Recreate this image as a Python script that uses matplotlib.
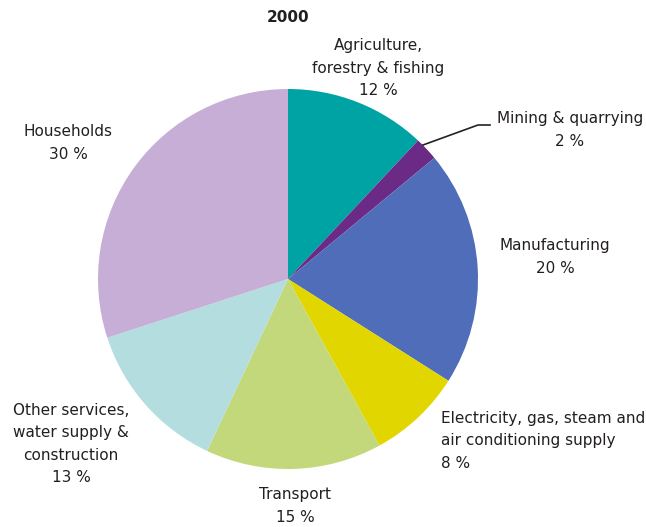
import matplotlib.pyplot as plt

# data
sectors = ['Agriculture,\nforestry & fishing', 'Mining & quarrying', 'Manufacturing',
           'Electricity, gas, steam and\nair conditioning supply', 'Transport',
           'Other services,\nwater supply &\nconstruction', 'Households']
shares = [12, 2, 20, 8, 15, 13, 30]
colors = ['#00a3a3', '#6b2a86', '#4f6db8', '#e2d600', '#c2d87a', '#b4dde0', '#c7aed6']

plt.rcParams['font.family'] = ['DejaVu Sans']

W, H = 646, 527
fig = plt.figure(figsize=(W / 100, H / 100), dpi=100)

cx, cy, r = 288, 279, 190   # pie centre / radius in pixels
ax = fig.add_axes([(cx - r) / W, (H - cy - r) / H, 2 * r / W, 2 * r / H])
ax.pie(shares, colors=colors, startangle=90, counterclock=False, radius=1,
       wedgeprops=dict(linewidth=0))
ax.set_xlim(-1, 1)
ax.set_ylim(-1, 1)
ax.set_aspect('equal')
ax.axis('off')


def px(x, y):
    return x / W, 1 - y / H


fs = 11
txtc = '#231f20'
fig.text(*px(288, 17), '2000', ha='center', va='center', fontsize=fs,
         fontweight='bold', color=txtc)

# label positions (pixels: x, y of text centre)
labels = [
    (378, 68, 'center'),
    (570, 130, 'center'),
    (555, 257, 'center'),
    (441, 441, 'left'),
    (295, 506, 'center'),
    (71, 444, 'center'),
    (68, 143, 'center'),
]
for (x, y, ha), name, val in zip(labels, sectors, shares):
    fig.text(*px(x, y), f'{name}\n{val} %', ha=ha, va='center', fontsize=fs,
             multialignment=ha, linespacing=1.6, color=txtc)

# leader line for mining
fig.add_artist(plt.Line2D([423 / W, 478 / W, 490 / W],
                          [1 - 145 / H, 1 - 125 / H, 1 - 125 / H],
                          color='#222222', lw=1.2))

fig.savefig('out.png', dpi=100)
